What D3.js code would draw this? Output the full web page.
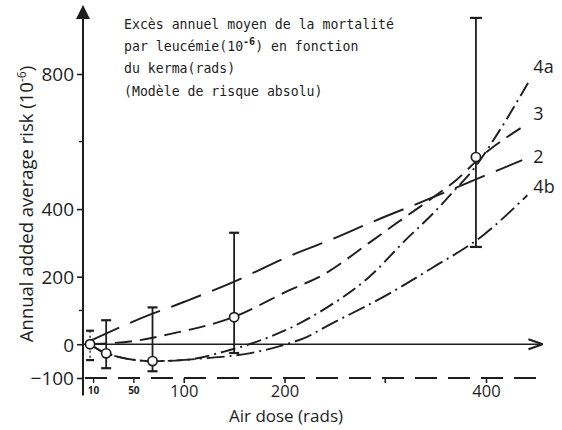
<!DOCTYPE html>
<html><head><meta charset="utf-8">
<script src="https://cdn.jsdelivr.net/npm/d3@7/dist/d3.min.js"></script>
<style>body{margin:0;background:#fff}svg{display:block}</style></head>
<body><svg id="c" width="562" height="430"></svg>
<script>
// ---- data ----
const doseTicks = [100, 200, 400];
const smallDoseTicks = [10, 50];
const unlabeledDoseTicks = [300];
const riskTicks = [-100, 0, 200, 400, 800];
const minorRiskTicks = [100, 600];

const curve2Dose = [7, 56, 100, 149, 205, 245, 291, 341, 397, 436];
const curve2Risk = [10, 75, 125, 184, 261, 308, 367, 427, 497, 545];
const curve3Dose = [7, 56, 86, 149, 205, 238, 284, 311, 350, 370, 397, 436];
const curve3Risk = [0, 12, 30, 80, 160, 205, 300, 358, 440, 485, 560, 643];
const curve4aDose = [7, 23, 69, 100, 140, 182, 205, 238, 284, 320, 350, 367, 387, 415, 442];
const curve4aRisk = [0, -27, -50, -47, -22, 18, 47, 101, 199, 308, 395, 450, 516, 640, 775];
const curve4bDose = [7, 23, 69, 119, 165, 205, 222, 238, 304, 346, 396, 441];
const curve4bRisk = [0, -27, -50, -42, -27, 3, 21, 47, 150, 225, 320, 441];

const pointDose = [7, 23, 69, 150, 390];
const pointRisk = [0, -27, -50, 80, 554];
const pointUpper = [40, 71, 109, 330, 966];
const pointLower = [-47, -71, -80, -26, 288];

const curveLabels = ["4a", "3", "2", "4b"];
const labelDose = [447, 447, 447, 447];
const labelRisk = [803, 664, 536, 448];

const titleLines = ["Excès annuel moyen de la mortalité", "par leucémie(10", "du kerma(rads)", "(Modèle de risque absolu)"];
const yLabel = "Annual added average risk (10";
const xLabel = "Air dose (rads)";

// ---- drawing ----
const svg = d3.select("#c");
const ink = "#1e1e1e";
const x = d3.scaleLinear().domain([0, 400]).range([83, 486]);
const y = d3.scaleLinear().domain([-100, 800]).range([378, 74]);
const sans = "'Open Sans', 'DejaVu Sans', sans-serif";

svg.append("defs").append("marker").attr("id", "arr")
  .attr("viewBox", "0 0 10 10").attr("refX", 9).attr("refY", 5)
  .attr("markerWidth", 9).attr("markerHeight", 9).attr("orient", "auto")
  .append("path").attr("d", "M0,1.5 L10,5 L0,8.5").attr("fill", "none").attr("stroke", ink).attr("stroke-width", 1.4);
svg.append("defs").append("marker").attr("id", "arrF")
  .attr("viewBox", "0 0 10 10").attr("refX", 9).attr("refY", 5)
  .attr("markerWidth", 7).attr("markerHeight", 9).attr("orient", "auto")
  .append("path").attr("d", "M0,0 L10,5 L0,10 Z").attr("fill", ink);

// y axis line with arrow
svg.append("line").attr("x1", x(0)).attr("x2", x(0)).attr("y1", y(-152)).attr("y2", y(1000))
  .attr("stroke", ink).attr("stroke-width", 2).attr("marker-end", "url(#arrF)");
// zero line with arrow
svg.append("line").attr("x1", x(0)).attr("x2", x(455)).attr("y1", y(0)).attr("y2", y(0))
  .attr("stroke", ink).attr("stroke-width", 1.6).attr("marker-end", "url(#arr)");
// -100 dashed baseline
svg.append("line").attr("x1", x(2)).attr("x2", x(454)).attr("y1", y(-100)).attr("y2", y(-100))
  .attr("stroke", ink).attr("stroke-width", 1.8).attr("stroke-dasharray", "22 11");

// y ticks
const yAxis = d3.axisLeft(y).tickValues(riskTicks).tickSize(6).tickPadding(3).tickFormat(d3.format("d"));
const gy = svg.append("g").attr("transform", `translate(${x(0)},0)`).call(yAxis);
gy.select(".domain").remove();
gy.selectAll("line").attr("stroke", ink).attr("stroke-width", 1.6);
gy.selectAll("text").attr("font-family", sans).attr("font-size", 19).attr("fill", ink).attr("dy", "0.36em");
svg.append("g").selectAll("line").data(minorRiskTicks).join("line")
  .attr("x1", x(0) - 4).attr("x2", x(0)).attr("y1", d => y(d)).attr("y2", d => y(d))
  .attr("stroke", ink).attr("stroke-width", 1.4);

// x ticks along the -100 line
const xAxis = d3.axisBottom(x).tickValues(doseTicks).tickSize(5).tickPadding(2).tickFormat(d3.format("d"));
const gx = svg.append("g").attr("transform", `translate(0,${y(-100)})`).call(xAxis);
gx.select(".domain").remove();
gx.selectAll("line").attr("stroke", ink).attr("stroke-width", 1.6);
gx.selectAll("text").attr("font-family", sans).attr("font-size", 16.5).attr("fill", ink);
const xAxisSmall = d3.axisBottom(x).tickValues(smallDoseTicks).tickSize(5).tickPadding(4).tickFormat(d3.format("d"));
const gxs = svg.append("g").attr("transform", `translate(0,${y(-100)})`).call(xAxisSmall);
gxs.select(".domain").remove();
gxs.selectAll("line").attr("stroke", ink).attr("stroke-width", 1.4);
gxs.selectAll("text").attr("font-family", sans).attr("font-size", 10).attr("font-weight", "bold").attr("fill", ink);
svg.append("g").selectAll("line").data(unlabeledDoseTicks).join("line")
  .attr("x1", d => x(d)).attr("x2", d => x(d)).attr("y1", y(-100)).attr("y2", y(-100) + 5)
  .attr("stroke", ink).attr("stroke-width", 1.6);

// axis titles
svg.append("text").attr("x", 286).attr("y", 422).attr("text-anchor", "middle")
  .attr("font-family", sans).attr("font-size", 17).attr("fill", ink).text(xLabel);
const yl = svg.append("text").attr("transform", "translate(33,204) rotate(-90)").attr("text-anchor", "middle")
  .attr("font-family", sans).attr("font-size", 18.5).attr("fill", ink);
yl.append("tspan").text(yLabel);
yl.append("tspan").attr("dy", -7).attr("font-size", 12).text("-6");
yl.append("tspan").attr("dy", 7).text(")");

// title block
const mono = "'DejaVu Sans Mono', 'Liberation Mono', monospace";
const tb = svg.append("g").attr("font-family", mono).attr("font-size", 13.2).attr("fill", ink);
tb.append("text").attr("x", 124).attr("y", 29).text(titleLines[0]);
const t2 = tb.append("text").attr("x", 124).attr("y", 51);
t2.append("tspan").text(titleLines[1]);
t2.append("tspan").attr("dy", -6).attr("font-size", 10).attr("font-weight", "bold").text("-6");
t2.append("tspan").attr("dy", 6).text(") en fonction");
tb.append("text").attr("x", 124).attr("y", 73).text(titleLines[2]);
tb.append("text").attr("x", 124).attr("y", 96).text(titleLines[3]);

// curves
const line = d3.line().x(d => x(d[0])).y(d => y(d[1])).curve(d3.curveMonotoneX);
const curves = [
  {dose: curve2Dose, risk: curve2Risk, dash: "32 12"},
  {dose: curve3Dose, risk: curve3Risk, dash: "17 8"},
  {dose: curve4aDose, risk: curve4aRisk, dash: "15 5 2 5"},
  {dose: curve4bDose, risk: curve4bRisk, dash: "18 5 2 5"}
];
svg.append("g").selectAll("path").data(curves).join("path")
  .attr("d", c => line(d3.zip(c.dose, c.risk)))
  .attr("fill", "none").attr("stroke", ink).attr("stroke-width", 1.9)
  .attr("stroke-dasharray", c => c.dash);

// curve labels
svg.append("g").selectAll("text").data(curveLabels).join("text")
  .attr("x", (d, i) => x(labelDose[i])).attr("y", (d, i) => y(labelRisk[i]))
  .attr("font-family", sans).attr("font-size", 18).attr("fill", ink).text(d => d);

// error bars + points
const pts = pointDose.map((d, i) => ({d, r: pointRisk[i], hi: pointUpper[i], lo: pointLower[i], i}));
const eb = svg.append("g");
eb.selectAll("line.v").data(pts).join("line").attr("class", "v")
  .attr("x1", p => x(p.d)).attr("x2", p => x(p.d)).attr("y1", p => y(p.hi)).attr("y2", p => y(p.lo))
  .attr("stroke", ink).attr("stroke-width", p => p.i === 0 ? 1.4 : 1.8)
  .attr("stroke-dasharray", p => p.i === 0 ? "2 3" : null);
const capW = [4, 5, 5, 5, 6];
eb.selectAll("line.top").data(pts).join("line").attr("class", "top")
  .attr("x1", p => x(p.d) - capW[p.i]).attr("x2", p => x(p.d) + capW[p.i])
  .attr("y1", p => y(p.hi)).attr("y2", p => y(p.hi)).attr("stroke", ink).attr("stroke-width", 2.2);
eb.selectAll("line.bot").data(pts).join("line").attr("class", "bot")
  .attr("x1", p => x(p.d) - capW[p.i]).attr("x2", p => x(p.d) + capW[p.i])
  .attr("y1", p => y(p.lo)).attr("y2", p => y(p.lo)).attr("stroke", ink).attr("stroke-width", 2.2);
eb.selectAll("circle").data(pts).join("circle")
  .attr("cx", p => x(p.d)).attr("cy", p => y(p.r)).attr("r", 4.6)
  .attr("fill", "#fff").attr("stroke", ink).attr("stroke-width", 1.7);
</script></body></html>
